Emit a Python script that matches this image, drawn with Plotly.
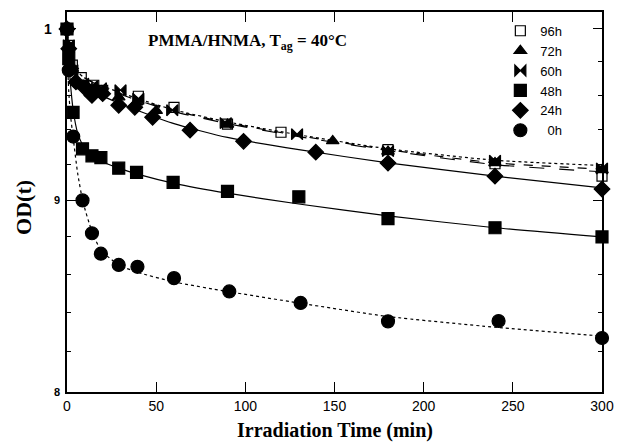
import math
import plotly.graph_objects as go

# Measured optical density OD(t) vs irradiation time (min), per aging time
t_96h = [0, 1, 3, 8, 15, 20, 40, 60, 90, 120, 180, 240, 300]
od_96h = [1.0, 0.99, 0.978, 0.9705, 0.966, 0.963, 0.9595, 0.953, 0.9432, 0.9385, 0.9285, 0.9205, 0.9135]

t_72h = [0, 1, 3, 9, 14, 20, 29, 39, 50, 90, 149, 180, 240, 300]
od_72h = [1.0, 0.988, 0.976, 0.966, 0.964, 0.962, 0.959, 0.956, 0.951, 0.943, 0.9335, 0.9275, 0.921, 0.917]

t_60h = [0, 1, 3, 9, 14, 19, 30, 40, 59, 89, 129, 180, 240, 300]
od_60h = [1.0, 0.99, 0.975, 0.967, 0.9655, 0.9643, 0.9631, 0.958, 0.9513, 0.9438, 0.9374, 0.9277, 0.9222, 0.9178]

t_48h = [0, 1, 3.4, 8.7, 14, 19, 29, 39, 59.5, 90, 130, 180, 240, 300]
od_48h = [1.0, 0.982, 0.950, 0.929, 0.925, 0.924, 0.918, 0.9156, 0.910, 0.905, 0.902, 0.890, 0.885, 0.880]

t_24h = [0, 1, 2, 5, 10, 14, 20, 29, 38, 48, 69, 99, 139.5, 180, 240, 300]
od_24h = [1.0, 0.988, 0.976, 0.968, 0.9645, 0.960, 0.961, 0.9542, 0.953, 0.9472, 0.9397, 0.9333, 0.9271, 0.9209, 0.9135, 0.9063]

t_0h = [0, 1, 3.5, 8.7, 14, 19, 29, 39.5, 60, 91, 131, 180, 242, 300]
od_0h = [1.0, 0.975, 0.936, 0.900, 0.882, 0.871, 0.865, 0.864, 0.858, 0.851, 0.845, 0.8355, 0.8357, 0.827]

# Fitted decay curves, sampled on a common time grid
fit_t = [0, 0.5, 1, 2, 3.5, 6, 9, 14, 19, 29, 40, 60, 90, 130, 180, 240, 300]
fit_96h = [1.0, 0.994, 0.989, 0.983, 0.978, 0.974, 0.971, 0.968, 0.965, 0.961, 0.957, 0.9505, 0.9435, 0.936, 0.928, 0.920, 0.916]
fit_72h = [1.0, 0.994, 0.989, 0.983, 0.978, 0.974, 0.971, 0.968, 0.965, 0.9615, 0.9575, 0.951, 0.944, 0.9365, 0.9285, 0.921, 0.9175]
fit_60h = [1.0, 0.994, 0.989, 0.983, 0.978, 0.974, 0.971, 0.968, 0.966, 0.962, 0.958, 0.9515, 0.9445, 0.937, 0.929, 0.9225, 0.9195]
fit_48h = [1.0, 0.99, 0.98, 0.966, 0.951, 0.938, 0.931, 0.926, 0.922, 0.918, 0.9145, 0.9095, 0.904, 0.898, 0.8915, 0.885, 0.880]
fit_24h = [1.0, 0.993, 0.987, 0.98, 0.974, 0.97, 0.967, 0.963, 0.96, 0.9555, 0.951, 0.9435, 0.9355, 0.9285, 0.921, 0.9135, 0.907]
fit_0h = [1.0, 0.975, 0.962, 0.948, 0.935, 0.915, 0.899, 0.883, 0.873, 0.865, 0.861, 0.856, 0.851, 0.845, 0.838, 0.8325, 0.828]

x_ticks = [0, 50, 100, 150, 200, 250, 300]
y_major = [0.8, 0.9, 1.0]
y_major_text = ["8", "9", "1"]
y_minor = [0.82, 0.84, 0.86, 0.88, 0.92, 0.94, 0.96, 0.98]

series = [
    ("96h", t_96h, od_96h, fit_96h, "square-open", 10, "longdash"),
    ("72h", t_72h, od_72h, fit_72h, "triangle-up", 11, "dash"),
    ("60h", t_60h, od_60h, fit_60h, "bowtie", 11, "dot"),
    ("48h", t_48h, od_48h, fit_48h, "square", 12, "solid"),
    ("24h", t_24h, od_24h, fit_24h, "diamond", 12, "solid"),
    ("  0h", t_0h, od_0h, fit_0h, "circle", 13, "dot"),
]

fig = go.Figure()

for name, t, od, fit, sym, size, dash in series:
    fig.add_trace(go.Scatter(
        x=fit_t, y=fit, mode="lines", showlegend=False, hoverinfo="skip",
        line=dict(color="black", width=1.2, dash=dash, shape="spline", smoothing=0.6),
        cliponaxis=False,
    ))

for name, t, od, fit, sym, size, dash in series:
    fig.add_trace(go.Scatter(
        x=t, y=od, mode="markers", name=name,
        marker=dict(symbol=sym, size=size, color="black",
                    line=dict(color="black", width=1.2)),
        cliponaxis=False,
    ))

serif = "Liberation Serif"
sans = "Liberation Sans"

fig.update_layout(
    width=617, height=443,
    margin=dict(l=67, r=15, t=12, b=51, autoexpand=False),
    paper_bgcolor="white", plot_bgcolor="white",
    showlegend=True,
    legend=dict(
        x=0.81, y=0.99, xanchor="left", yanchor="top",
        bgcolor="rgba(0,0,0,0)", borderwidth=0,
        font=dict(family=sans, size=13, color="black"),
        itemwidth=30, tracegroupgap=0,
    ),
    xaxis=dict(
        range=[0, 300], tickvals=x_ticks, ticks="inside", ticklen=10, tickwidth=1.3,
        tickcolor="black", showline=True, linecolor="black", linewidth=1.6,
        mirror="ticks", showgrid=False, zeroline=False, automargin=False,
        tickfont=dict(family=sans, size=14, color="black"),
    ),
    yaxis=dict(
        type="log", range=[math.log10(0.8), math.log10(1.0105)],
        tickvals=y_major, ticktext=y_major_text, showticklabels=False,
        ticks="inside", ticklen=9, tickwidth=1.3, tickcolor="black",
        minor=dict(tickvals=y_minor, ticks="inside", ticklen=4, tickcolor="black", tickwidth=1),
        showline=True, linecolor="black", linewidth=1.6, mirror="ticks",
        showgrid=False, zeroline=False, automargin=False,
    ),
)

# y tick labels
label_sizes = [11, 11, 14]
label_dx = [-5, -5, -13]
for v, txt, fs, dx in zip(y_major, y_major_text, label_sizes, label_dx):
    fig.add_annotation(
        x=0, xref="paper", y=math.log10(v), yref="y", text=f"<b>{txt}</b>",
        showarrow=False, xanchor="right", yanchor="middle", xshift=dx,
        font=dict(family=sans, size=fs, color="black"),
    )

fig.add_annotation(
    x=0.501, xref="paper", y=-0.10, yref="paper", yanchor="middle",
    text="<b>Irradiation Time (min)</b>", showarrow=False,
    font=dict(family=serif, size=20, color="black"),
)
fig.add_annotation(
    x=-0.0804, xref="paper", y=0.487, yref="paper", textangle=-90,
    text="<b>OD(t)</b>", showarrow=False, xanchor="center", yanchor="middle",
    font=dict(family=serif, size=22, color="black"),
)
fig.add_annotation(
    x=(146 - 67) / 535, xref="paper", y=(392 - 42) / 380, yref="paper",
    xanchor="left", yanchor="middle",
    text="<b>PMMA/HNMA, T<sub>ag</sub> = 40°C</b>", showarrow=False,
    font=dict(family=serif, size=17, color="black"),
)

fig.write_html("out.html")
